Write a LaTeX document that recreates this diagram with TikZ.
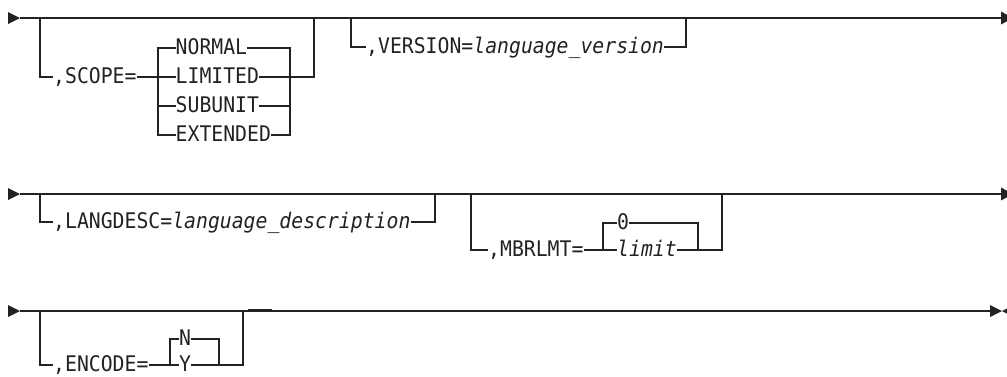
\documentclass[tikz,border=0pt]{standalone}
\usepackage{fontspec}
\newfontfamily\synfont[FakeStretch=0.92]{DejaVu Sans Mono}
\definecolor{ink}{HTML}{222222}
\begin{document}
\begin{tikzpicture}[x=1pt,y=-1pt,
  wire/.style={line width=1.4pt, draw=ink, line join=miter},
  lbl/.style={inner sep=0pt, anchor=west, text height=15.6pt, text depth=3.4pt,
              font=\synfont\fontsize{21.5}{24}\selectfont, text=ink},
  tipfill/.style={fill=ink}]
\useasboundingbox (0,0) rectangle (1007,376);

% ---------------- Row 1 ----------------
\coordinate (r1s) at (20,18);
\coordinate (r1e) at (1001,18);
\fill[tipfill] (8,12) -- (20,18) -- (8,24) -- cycle;
\fill[tipfill] (1001,11.5) -- (1013,18) -- (1001,24.5) -- cycle;
\draw[wire] (r1s) -- (r1e);

\coordinate (a1) at (40,18);
\coordinate (b1) at (314,18);
\coordinate (sl) at (158,77);
\coordinate (sr) at (290,77);
\node[lbl] (scope) at (53,77) {,SCOPE=};
\node[lbl] (normal) at (175.5,48) {NORMAL};
\node[lbl] (limited) at (175.5,77) {LIMITED};
\node[lbl] (subunit) at (175.5,106) {SUBUNIT};
\node[lbl] (extended) at (175.5,135) {EXTENDED};
\draw[wire] (a1) |- (scope.west);
\draw[wire] (scope.east) -- (sl);
\draw[wire] (normal.west) -- (sl|-normal.west) -- (sl|-extended.west) -- (extended.west);
\draw[wire] (sl|-limited.west) -- (limited.west);
\draw[wire] (sl|-subunit.west) -- (subunit.west);
\draw[wire] (normal.east) -- (sr|-normal.east) -- (sr|-extended.east) -- (extended.east);
\draw[wire] (limited.east) -- (sr|-limited.east);
\draw[wire] (subunit.east) -- (sr|-subunit.east);
\draw[wire] (sr) -- (b1|-sr) -- (b1);

\coordinate (v1) at (351,18);
\coordinate (v2) at (686,18);
\node[lbl] (version) at (366,47) {,VERSION=\textit{language\_version}};
\draw[wire] (v1) |- (version.west);
\draw[wire] (version.east) -| (v2);

% ---------------- Row 2 ----------------
\coordinate (r2s) at (20,194);
\coordinate (r2e) at (1001,194);
\fill[tipfill] (8,188) -- (20,194) -- (8,200) -- cycle;
\fill[tipfill] (1001,187.5) -- (1013,194) -- (1001,200.5) -- cycle;
\draw[wire] (r2s) -- (r2e);

\coordinate (a2) at (40,194);
\coordinate (b2) at (435,194);
\node[lbl] (langdesc) at (53,222) {,LANGDESC=\textit{language\_description}};
\draw[wire] (a2) |- (langdesc.west);
\draw[wire] (langdesc.east) -| (b2);

\coordinate (a3) at (471,194);
\coordinate (b3) at (722,194);
\coordinate (ml) at (603,250);
\coordinate (mr) at (698,250);
\node[lbl] (mbrlmt) at (488,250) {,MBRLMT=};
\node[lbl] (zero) at (617,223) {0};
\node[lbl] (limit) at (617,250) {\textit{limit}};
\draw[wire] (a3) |- (mbrlmt.west);
\draw[wire] (mbrlmt.east) -- (ml);
\draw[wire] (zero.west) -- (ml|-zero.west) -- (ml|-limit.west) -- (limit.west);
\draw[wire] (zero.east) -- (mr|-zero.east) -- (mr|-limit.east) -- (limit.east);
\draw[wire] (mr) -- (b3|-mr) -- (b3);

% ---------------- Row 3 ----------------
\coordinate (r3s) at (20,311);
\coordinate (r3e) at (990,311);
\fill[tipfill] (8,305) -- (20,311) -- (8,317) -- cycle;
\draw[wire] (r3s) -- (r3e);
\fill[tipfill] (990,305) -- (1002,311) -- (990,317) -- cycle;
\fill[tipfill] (1014,305) -- (1002,311) -- (1014,317) -- cycle;
\draw[line width=2.6pt, draw=ink] (248,310.6) -- (272,310.6);

\coordinate (a4) at (40,311);
\coordinate (b4) at (243,311);
\coordinate (el) at (170,365);
\coordinate (er) at (219,365);
\node[lbl] (encode) at (53,365) {,ENCODE=};
\node[lbl] (nn) at (179,339) {N};
\node[lbl] (yy) at (179,365) {Y};
\draw[wire] (a4) |- (encode.west);
\draw[wire] (encode.east) -- (el);
\draw[wire] (nn.west) -- (el|-nn.west) -- (el|-yy.west) -- (yy.west);
\draw[wire] (nn.east) -- (er|-nn.east) -- (er|-yy.east) -- (yy.east);
\draw[wire] (er) -- (b4|-er) -- (b4);
\end{tikzpicture}
\end{document}
